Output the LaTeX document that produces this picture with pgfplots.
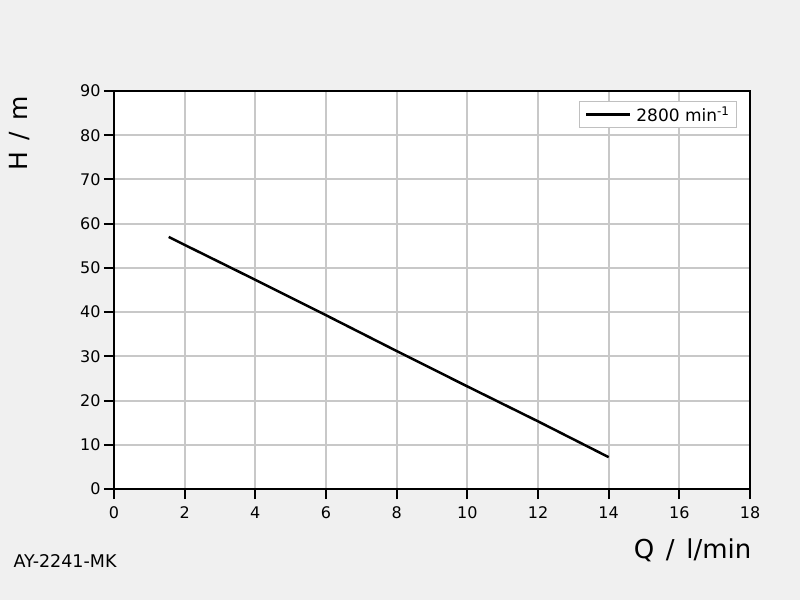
\documentclass[border=0pt]{standalone}
\usepackage{fontspec}
\setmainfont{DejaVu Sans}
\usepackage{pgfplots}
\pgfplotsset{compat=1.18}
\definecolor{bgc}{HTML}{F0F0F0}
\definecolor{gridc}{HTML}{C8C8C8}
\definecolor{legc}{HTML}{C0C0C0}
\begin{document}
\begin{tikzpicture}
\fill[bgc,use as bounding box] (0,0) rectangle (800pt,600pt);
\begin{axis}[
  at={(114pt,111pt)}, anchor=south west,
  scale only axis, width=636pt, height=398pt,
  xmin=0, xmax=18, ymin=0, ymax=90,
  xtick={0,2,...,18}, ytick={0,10,...,90},
  axis background/.style={fill=white},
  axis line style={line width=2pt, black},
  grid=major,
  major grid style={line width=2pt, gridc},
  tick align=outside, tick pos=left,
  major tick length=10pt,
  every tick/.style={black, line width=2pt},
  /pgf/number format/assume math mode=true,
  tick label style={font=\fontsize{16}{19}\selectfont},
  xticklabel style={yshift=-4pt},
  xlabel={Q\hspace{0.45em}/\hspace{0.45em}l/min},
  ylabel={H\hspace{0.45em}/\hspace{0.45em}m},
  xlabel style={font=\fontsize{26}{30}\selectfont, at={(axis description cs:1,0)}, anchor=base east, xshift=5pt, yshift=-69pt},
  ylabel style={font=\fontsize{25}{30}\selectfont, at={(axis description cs:-0.1478,0.995)}, anchor=east},
  legend style={at={(1,1)}, anchor=north east, xshift=-13pt, yshift=-10pt, draw=legc, line width=1pt, fill=white, font=\fontsize{17}{20}\selectfont, inner xsep=5pt, inner ysep=3pt},
  legend image code/.code={\draw[line width=2.5pt,black] (0pt,0pt) -- (44pt,0pt);},
  clip=false,
]
\addplot[black, line width=2.5pt] coordinates {
(1.55,57) (2,55.2) (4,47.3) (6,39.3) (8,31.2) (10,23.2) (12,15.3) (14,7.2)
};
\addlegendentry{\hspace{3pt}2800 min\textsuperscript{-1}}
\end{axis}
\node[anchor=base west, font=\fontsize{17.5}{20}\selectfont] at (10pt,33pt) {AY-2241-MK};
\end{tikzpicture}
\end{document}
